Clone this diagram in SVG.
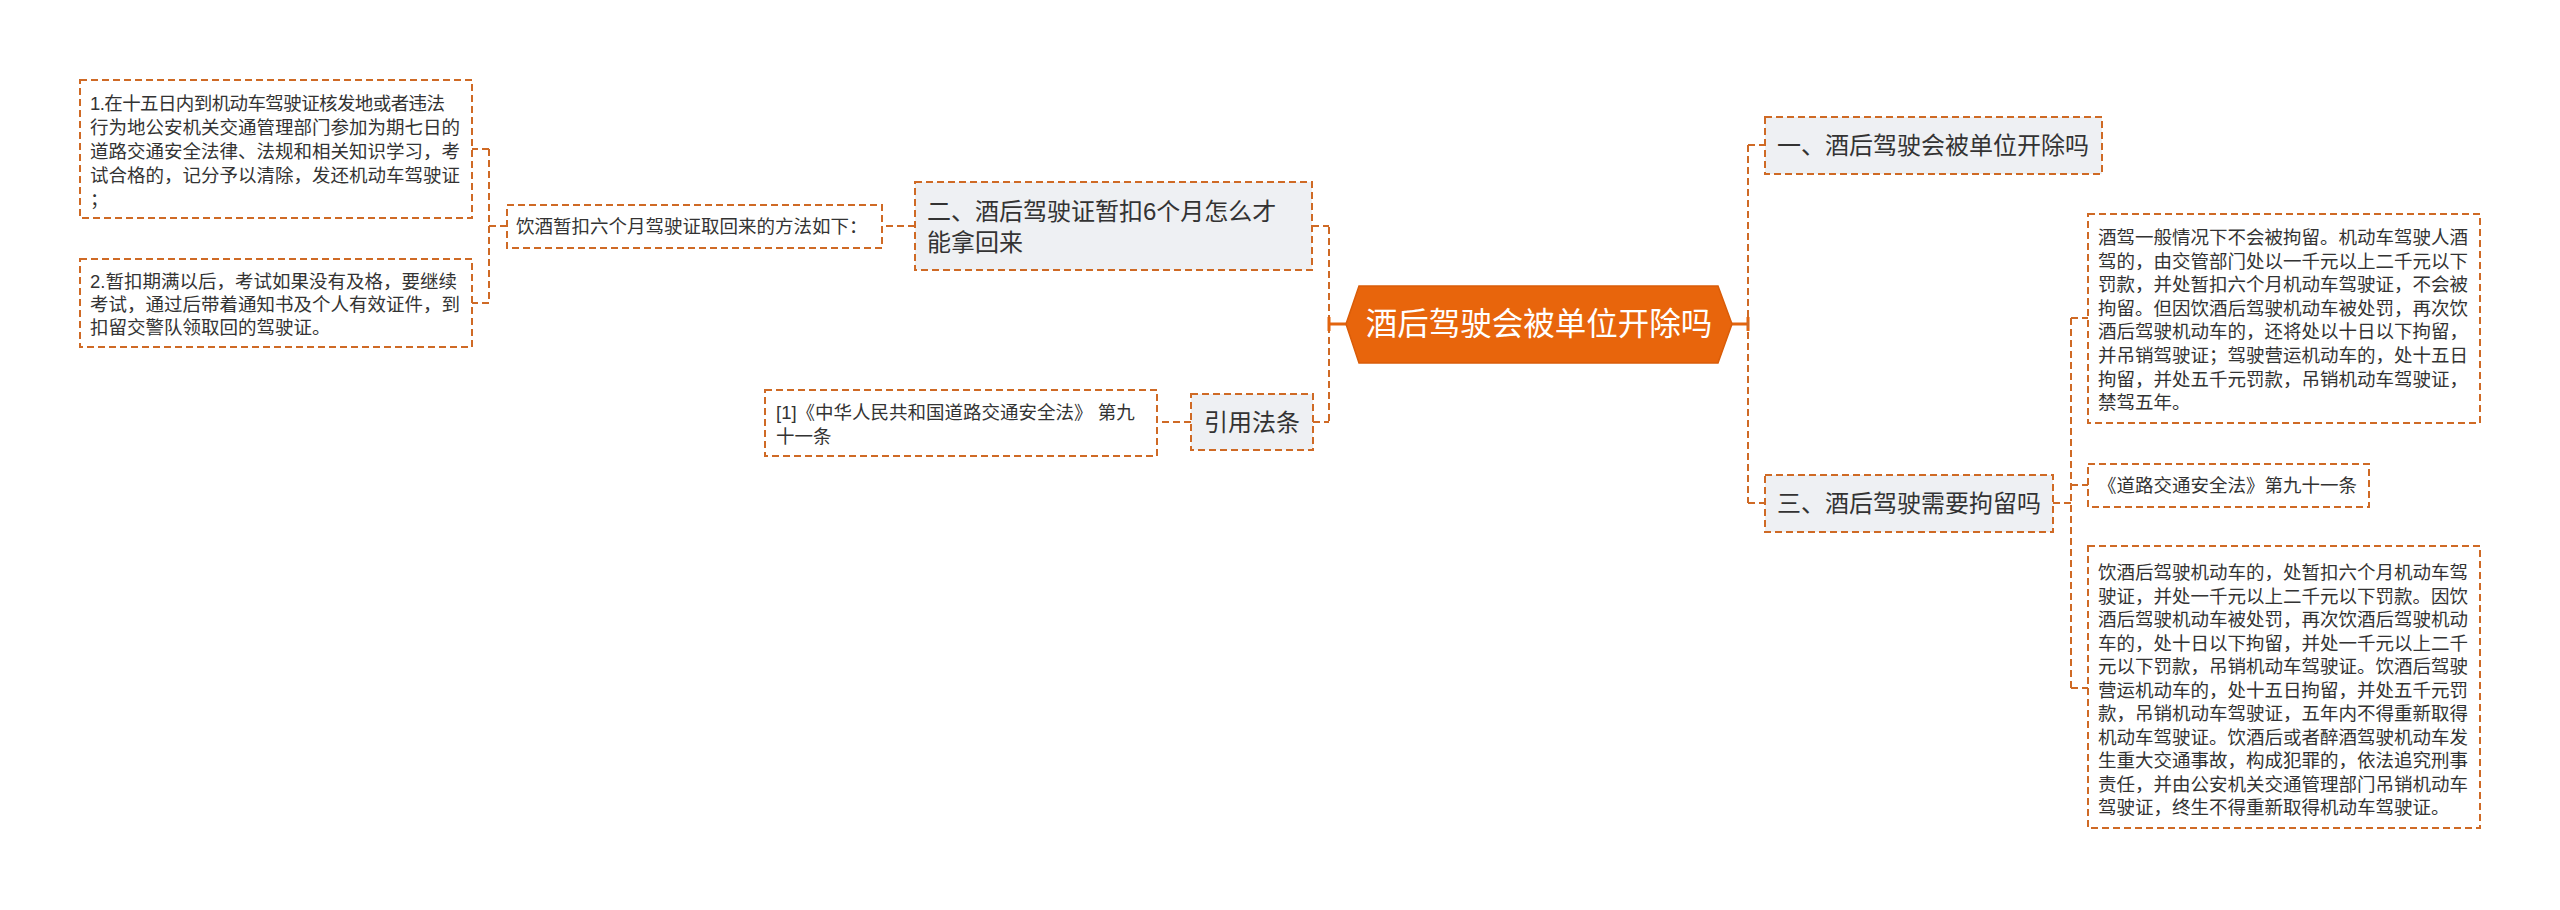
<svg xmlns="http://www.w3.org/2000/svg" width="2560" height="910" viewBox="0 0 2560 910">
<style>
text{font-family:"Liberation Sans","Noto Sans CJK SC",sans-serif;fill:#333333;dominant-baseline:central}
.leaf{fill:#ffffff;stroke:#CF6A25;stroke-width:2;stroke-dasharray:7 4}
.l1{fill:#EEF0F3;stroke:#CF6A25;stroke-width:2;stroke-dasharray:7 4}
.t18{font-size:18.5px}
.t24{font-size:24px}
.conn path{fill:none;stroke:#CF6A25;stroke-width:2;stroke-dasharray:7 4}
.conn path.solid{stroke:#E2640E;stroke-width:3;stroke-dasharray:none}
</style>
<rect width="2560" height="910" fill="#ffffff"/>
<g class="conn" id="connectors">
<path d="M1329,227 V422"/>
<path d="M1312,226 H1329"/>
<path d="M1313,422 H1329"/>
<path class="solid" d="M1329,324 H1346 M1329,317 V331"/>
<path d="M915,226 H882"/>
<path d="M507,226 H489"/>
<path d="M489,149 V303"/>
<path d="M489,149 H472"/>
<path d="M489,303 H472"/>
<path d="M1191,422 H1157"/>
<path class="solid" d="M1732,324 H1748 M1748,317 V331"/>
<path d="M1748,145 V503"/>
<path d="M1748,145 H1765"/>
<path d="M1748,503 H1765"/>
<path d="M2053,503 H2071"/>
<path d="M2071,318 V688"/>
<path d="M2071,318 H2088"/>
<path d="M2071,485 H2088"/>
<path d="M2071,688 H2088"/>
</g>
<g id="center">
<polygon points="1346,324 1359,286 1718,286 1732,324 1718,363 1359,363" fill="#E8650C" stroke="#D95C08" stroke-width="1.5"/>
<text x="1539" y="324" text-anchor="middle" style="font-size:31.5px;fill:#ffffff">酒后驾驶会被单位开除吗</text>
</g>
<g id="n2">
<rect class="l1" x="915" y="182" width="397" height="88"/>
<text class="t24" x="927"><tspan x="927" y="211">二、酒后驾驶证暂扣6个月怎么才</tspan><tspan x="927" y="242">能拿回来</tspan></text>
</g>
<g id="n2a">
<rect class="leaf" x="507" y="205" width="375" height="43"/>
<text class="t18" x="516" y="226">饮酒暂扣六个月驾驶证取回来的方法如下：</text>
</g>
<g id="n2a1">
<rect class="leaf" x="80" y="80" width="392" height="138"/>
<text class="t18"><tspan x="90" y="103" letter-spacing="-0.6">1.在十五日内到机动车驾驶证核发地或者违法</tspan><tspan x="90" y="127">行为地公安机关交通管理部门参加为期七日的</tspan><tspan x="90" y="151">道路交通安全法律、法规和相关知识学习，考</tspan><tspan x="90" y="175">试合格的，记分予以清除，发还机动车驾驶证</tspan><tspan x="90" y="199">；</tspan></text>
</g>
<g id="n2a2">
<rect class="leaf" x="80" y="259" width="392" height="88"/>
<text class="t18"><tspan x="90" y="281">2.暂扣期满以后，考试如果没有及格，要继续</tspan><tspan x="90" y="304">考试，通过后带着通知书及个人有效证件，到</tspan><tspan x="90" y="327">扣留交警队领取回的驾驶证。</tspan></text>
</g>
<g id="nref">
<rect class="l1" x="1191" y="394" width="122" height="56"/>
<text class="t24" x="1204" y="422">引用法条</text>
</g>
<g id="nref1">
<rect class="leaf" x="765" y="390" width="392" height="66"/>
<text class="t18"><tspan x="776" y="412">[1]《中华人民共和国道路交通安全法》 第九</tspan><tspan x="776" y="436">十一条</tspan></text>
</g>
<g id="n1">
<rect class="l1" x="1765" y="117" width="337" height="57"/>
<text class="t24" x="1777" y="145">一、酒后驾驶会被单位开除吗</text>
</g>
<g id="n3">
<rect class="l1" x="1765" y="475" width="288" height="57"/>
<text class="t24" x="1777" y="503">三、酒后驾驶需要拘留吗</text>
</g>
<g id="n3a">
<rect class="leaf" x="2088" y="214" width="392" height="209"/>
<text class="t18"><tspan x="2098" y="237">酒驾一般情况下不会被拘留。机动车驾驶人酒</tspan><tspan x="2098" y="260.6">驾的，由交管部门处以一千元以上二千元以下</tspan><tspan x="2098" y="284.2">罚款，并处暂扣六个月机动车驾驶证，不会被</tspan><tspan x="2098" y="307.8">拘留。但因饮酒后驾驶机动车被处罚，再次饮</tspan><tspan x="2098" y="331.4">酒后驾驶机动车的，还将处以十日以下拘留，</tspan><tspan x="2098" y="355">并吊销驾驶证；驾驶营运机动车的，处十五日</tspan><tspan x="2098" y="378.6">拘留，并处五千元罚款，吊销机动车驾驶证，</tspan><tspan x="2098" y="402.2">禁驾五年。</tspan></text>
</g>
<g id="n3b">
<rect class="leaf" x="2088" y="464" width="281" height="43"/>
<text class="t18" x="2098" y="485.5">《道路交通安全法》第九十一条</text>
</g>
<g id="n3c">
<rect class="leaf" x="2088" y="546" width="392" height="282"/>
<text class="t18"><tspan x="2098" y="572">饮酒后驾驶机动车的，处暂扣六个月机动车驾</tspan><tspan x="2098" y="595.5">驶证，并处一千元以上二千元以下罚款。因饮</tspan><tspan x="2098" y="619">酒后驾驶机动车被处罚，再次饮酒后驾驶机动</tspan><tspan x="2098" y="642.5">车的，处十日以下拘留，并处一千元以上二千</tspan><tspan x="2098" y="666">元以下罚款，吊销机动车驾驶证。饮酒后驾驶</tspan><tspan x="2098" y="689.5">营运机动车的，处十五日拘留，并处五千元罚</tspan><tspan x="2098" y="713">款，吊销机动车驾驶证，五年内不得重新取得</tspan><tspan x="2098" y="736.5">机动车驾驶证。饮酒后或者醉酒驾驶机动车发</tspan><tspan x="2098" y="760">生重大交通事故，构成犯罪的，依法追究刑事</tspan><tspan x="2098" y="783.5">责任，并由公安机关交通管理部门吊销机动车</tspan><tspan x="2098" y="807">驾驶证，终生不得重新取得机动车驾驶证。</tspan></text>
</g>
</svg>
